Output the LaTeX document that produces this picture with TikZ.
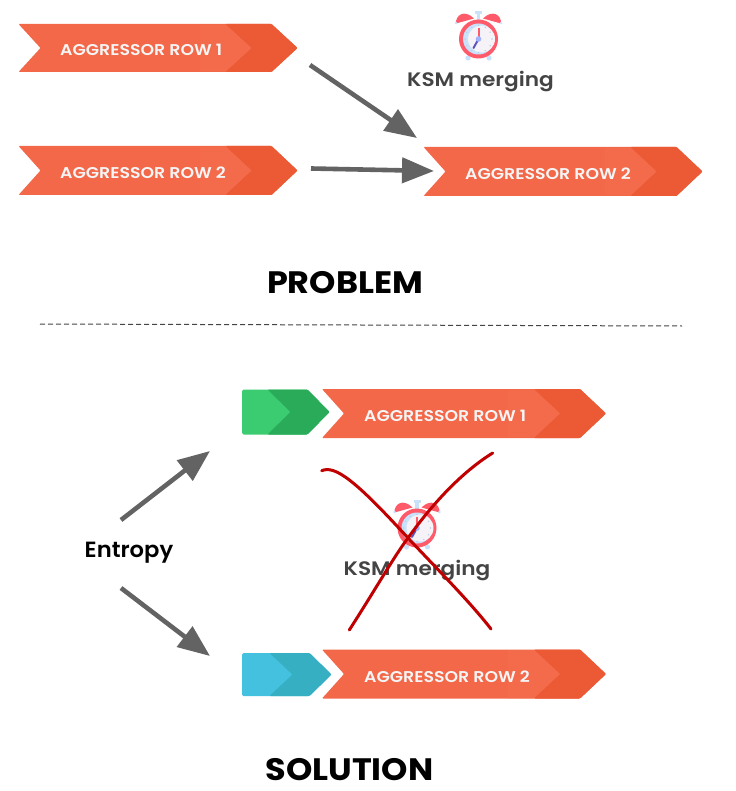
\documentclass[tikz,border=0pt]{standalone}
\usepackage{fontspec}
\setmainfont{Poppins}[UprightFont={Poppins SemiBold},BoldFont={Poppins Bold}]
\newfontfamily\stretchlab{Poppins SemiBold}[FakeStretch=1.11]
\newfontfamily\stretchhead{Poppins Bold}[FakeStretch=1.08]
\newfontfamily\stretchent{Poppins SemiBold}[FakeStretch=1.03]
\usetikzlibrary{arrows.meta}
\definecolor{ribL}{HTML}{F26849}
\definecolor{ribO}{HTML}{F36B4B}
\definecolor{ribD}{HTML}{EB5A34}
\definecolor{grnL}{HTML}{3BCB71}
\definecolor{grnD}{HTML}{2AAB59}
\definecolor{bluL}{HTML}{45C1E0}
\definecolor{bluD}{HTML}{36AFC3}
\definecolor{arrowgray}{HTML}{636363}
\definecolor{inkgray}{HTML}{444444}
\definecolor{crossred}{HTML}{C00000}
\definecolor{bellred}{HTML}{FF5A6A}
\definecolor{palebl}{HTML}{C9E2FB}
\definecolor{face}{HTML}{F6F3F8}
\definecolor{hand}{HTML}{5B55C0}
\tikzset{
  x=1pt,y=-1pt,
  ribbonlabel/.style={text=white!96!black,font=\stretchlab\fontsize{15.6}{18}\selectfont,anchor=west,inner sep=0pt},
  flow/.style={draw=arrowgray,line width=4.6pt,-{Triangle[length=32pt,width=25pt,fill=arrowgray]}},
  kslabel/.style={text=inkgray,font=\stretchlab\fontsize{19.5}{22}\selectfont,inner sep=0pt},
  heading/.style={text=black,font=\stretchhead\fontsize{31}{34}\selectfont,inner sep=0pt},
  crossline/.style={draw=crossred,line width=3pt,line cap=round},
  clockface/.pic={
    \fill[bellred] (-22.5,-15.5) .. controls (-23,-24) and (-14,-30) .. (-4.5,-20.5) -- cycle;
    \fill[bellred] (22.5,-15.5) .. controls (23,-24) and (14,-30) .. (4.5,-20.5) -- cycle;
    \fill[palebl] (-1.7,-26) rectangle (1.7,-18);
    \fill[palebl] (-3.5,-28) rectangle (3.5,-25);
    \fill[palebl] (-10.5,19) circle (2.6);
    \fill[palebl] (10.5,19) circle (2.6);
    \fill[palebl] (-22.5,-16) circle (1.3);
    \fill[palebl] (22.5,-16) circle (1.3);
    \fill[bellred] (0,0) circle (19.5);
    \fill[palebl] (0,0) circle (15.5);
    \fill[face] (3,0) circle (13.5);
    \foreach \a in {0,30,...,330} \fill[palebl!80!gray] (\a:13.5) circle (0.8);
    \draw[bellred,line width=2pt] (0,0) -- (0,-11);
    \draw[hand,line width=2pt,line cap=round] (0,0) -- (-5,9);
    \fill[palebl!70!blue!80] (0,0) circle (2.8);
  }
}
% name, x left, x tip, y top, y bottom, label, label x
\newcommand\ribbonshape[7]{%
  \fill[ribL,rounded corners=1pt] (#2,#4) -- (#3-26,#4) -- (#3,{(#4+#5)/2}) -- (#3-26,#5) -- (#2,#5) -- (#2+22,{(#4+#5)/2}) -- cycle;
  \fill[ribD,rounded corners=1pt] (#3-72,#4) -- (#3-26,#4) -- (#3,{(#4+#5)/2}) -- (#3-26,#5) -- (#3-72,#5) -- (#3-46,{(#4+#5)/2}) -- cycle;
  \fill[ribO] (#3-98,#4+.5) -- (#3-72,#4+.5) -- (#3-46,{(#4+#5)/2}) -- (#3-72,#5-.5) -- (#3-98,#5-.5) -- cycle;
  \node[ribbonlabel] (#1) at (#7,{(#4+#5)/2+2.3}) {#6};
}
% name, x left, x tip, y top, y bottom, light, dark
\newcommand\tabshape[7]{%
  \fill[#6,rounded corners=1.5pt] (#2,#4) -- (#3-22,#4) -- (#3,{(#4+#5)/2}) -- (#3-22,#5) -- (#2,#5) -- cycle;
  \fill[#7,rounded corners=1pt] (#3-62,#4) -- (#3-22,#4) -- (#3,{(#4+#5)/2}) -- (#3-22,#5) -- (#3-62,#5) -- (#3-39,{(#4+#5)/2}) -- cycle;
  \coordinate (#1) at (#2,{(#4+#5)/2});
}
\begin{document}
\begin{tikzpicture}
\useasboundingbox (0,0) rectangle (735,791);
\fill[white] (0,0) rectangle (735,791);

\ribbonshape{rowA}{18.5}{297.5}{24}{72}{AGGRESSOR ROW 1}{60}
\ribbonshape{rowB}{18.5}{297.5}{146}{195}{AGGRESSOR ROW 2}{60}
\ribbonshape{rowC}{423.5}{702.5}{147}{196}{AGGRESSOR ROW 2}{465}
\ribbonshape{rowD}{322}{606}{389}{438}{AGGRESSOR ROW 1}{364}
\ribbonshape{rowE}{322}{606}{649.5}{698.5}{AGGRESSOR ROW 2}{364}
\tabshape{tabG}{242}{329.5}{389.5}{434.5}{grnL}{grnD}
\tabshape{tabB}{242}{331.5}{653}{696}{bluL}{bluD}

\pic at (478.5,39) {clockface};
\node[kslabel] (ksmA) at (480.5,81.5) {KSM merging};

\coordinate (a1s) at (310,65);  \coordinate (a1e) at (417,138);
\coordinate (a2s) at (311,168.5); \coordinate (a2e) at (434,171);
\coordinate (a3s) at (121,520); \coordinate (a3e) at (210,451);
\coordinate (a4s) at (121,588); \coordinate (a4e) at (210,656);
\draw[flow] (a1s) -- (a1e);
\draw[flow] (a2s) -- (a2e);
\draw[flow] (a3s) -- (a3e);
\draw[flow] (a4s) -- (a4e);

\node[heading] (prob) at (345,283) {PROBLEM};
\coordinate (dashL) at (40,324);
\coordinate (dashR) at (682,326);
\draw[inkgray,line width=1pt,dash pattern=on 5pt off 3pt] (dashL) -- (dashR);

\node[text=black,font=\stretchent\fontsize{22}{24}\selectfont,inner sep=0pt] (entropy) at (129,553) {Entropy};

\pic at (417,528) {clockface};
\node[kslabel] (ksmB) at (417,570.5) {KSM merging};
\draw[crossline] (321.7,470.7) .. controls (335,465) and (355,480) .. (408,538) .. controls (440,572) and (470,602) .. (491,629);
\draw[crossline] (349.3,630) .. controls (375,590) and (395,555) .. (408,538) .. controls (435,500) and (465,470) .. (492.7,453);

\node[heading] (sol) at (349.5,769.5) {SOLUTION};
\end{tikzpicture}
\end{document}
